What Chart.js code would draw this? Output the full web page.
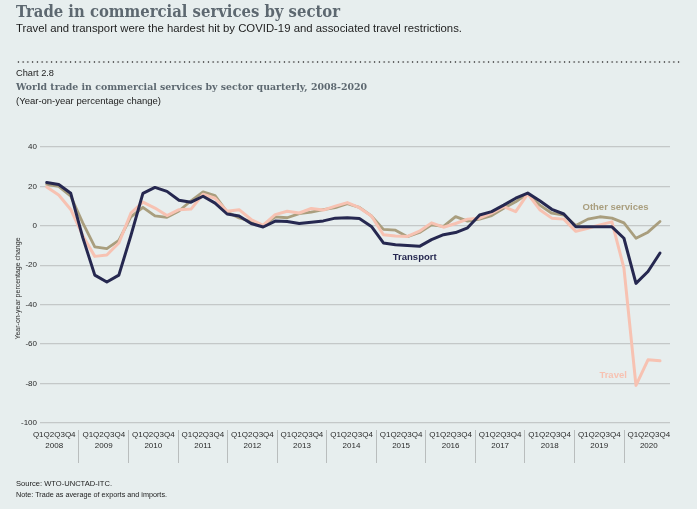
<!DOCTYPE html>
<html>
<head>
<meta charset="utf-8">
<script src="https://cdn.jsdelivr.net/npm/chart.js@4/dist/chart.umd.min.js"></script>
<style>
  html, body { margin:0; padding:0; }
  body { width:697px; height:509px; overflow:hidden; position:relative; background:#e7eeee; font-family:"Liberation Sans", Arial, sans-serif; }
  .t { position:absolute; left:16px; white-space:nowrap; transform-origin:left top; }
  #title { top:3px; font-family:"DejaVu Serif", serif; font-weight:bold; font-size:17px; line-height:17px; color:#5d6870; }
  #sub { top:23px; font-size:11px; line-height:11px; color:#1e1e1e; }
  #dots { position:absolute; left:16px; top:61px; width:665px; height:2px;
          background-image: radial-gradient(circle, #555 0.85px, transparent 1.1px);
          background-size: 4.75px 2px; background-repeat: repeat-x; }
  #cnum { top:68px; font-size:9.5px; line-height:9.5px; color:#222; }
  #ctitle { top:82px; font-family:"DejaVu Serif", serif; font-weight:bold; font-size:10px; line-height:10px; color:#5d6870; }
  #cunit { top:97px; font-size:9px; line-height:9px; color:#222; }
  #src { top:480px; font-size:7.5px; line-height:7.5px; color:#222; }
  #note { top:491px; font-size:7.5px; line-height:7.5px; color:#222; }
  canvas { position:absolute; left:0; top:0; }
</style>
</head>
<body>
<canvas id="c" width="697" height="509"></canvas>
<div class="t" id="title" data-w="324">Trade in commercial services by sector</div>
<div class="t" id="sub" data-w="446">Travel and transport were the hardest hit by COVID-19 and associated travel restrictions.</div>
<div id="dots"></div>
<div class="t" id="cnum" data-w="38">Chart 2.8</div>
<div class="t" id="ctitle" data-w="351">World trade in commercial services by sector quarterly, 2008-2020</div>
<div class="t" id="cunit" data-w="145">(Year-on-year percentage change)</div>
<div class="t" id="src" data-w="96">Source: WTO-UNCTAD-ITC.</div>
<div class="t" id="note" data-w="151">Note: Trade as average of exports and imports.</div>
<script>
// ---- data (quarterly, 2008 Q1 .. 2020 Q4) ----
const years = ['2008','2009','2010','2011','2012','2013','2014','2015','2016','2017','2018','2019','2020'];
const quarterLabel = 'Q1Q2Q3Q4';
const yTicks = [40, 20, 0, -20, -40, -60, -80, -100];
const seriesNames = ['Transport', 'Travel', 'Other services'];

const transport = [22, 21, 16.5, -6, -25, -28.5, -25, -5, 16.5, 19.5, 17.5, 13, 12, 15, 11.5, 6,
  5, 1.2, -0.6, 2.4, 2.2, 1.2, 1.8, 2.5, 3.9, 4.1, 3.7, -0.3, -8.7, -9.6, -10, -10.4,
  -7, -4.5, -3.4, -1, 5.5, 7.2, 10.5, 14, 16.6, 12.7, 8.4, 6, -0.5, -0.5, -0.5, -0.5,
  -6.3, -29.2, -23.2, -13.8];
const travel = [19.7, 15.6, 8.3, -5, -15.5, -14.8, -8.7, 6.4, 12, 9, 5.2, 8.2, 8.5, 16, 14, 7.4,
  8.2, 3.2, 0.3, 5.7, 7.4, 6.5, 8.8, 8, 10, 11.8, 9.2, 5, -4.5, -5.2, -5.4, -2.7,
  1.5, -0.7, 1.2, 3.4, 3.9, 6.4, 9.7, 7.2, 16.2, 8.2, 3.9, 3.4, -2.8, -1.2, 0.5, 2,
  -21.5, -81, -68, -68.5];
const otherServices = [21, 20, 15, 1.5, -10.7, -11.6, -7.4, 4.5, 9.4, 5, 4.3, 7.5, 12.7, 17.2, 15.3, 7,
  4, 2.2, 0, 4.5, 4.1, 6.2, 7, 8.2, 9.2, 11.2, 9.4, 5, -1.8, -2.2, -5.5, -3.4,
  0.5, -0.3, 4.7, 2.4, 3.4, 5.2, 8.9, 12.2, 16.4, 10.5, 6.4, 5.5, 0.2, 3.4, 4.6, 3.9,
  1.5, -6.3, -3.2, 2.2];

// ---- styling ----
const colors = { 'Transport': '#262850', 'Travel': '#f7c2b2', 'Other services': '#a99e7e' };
const widths = { 'Transport': 3, 'Travel': 3, 'Other services': 2.8 };
// in-chart series labels (in data units: quarter index, percent)
const seriesLabels = [
  { text: 'Transport', qx: 30.6, vy: -15.8 },
  { text: 'Other services', qx: 47.3, vy: 9.3 },
  { text: 'Travel', qx: 47.1, vy: -75.7 }
];

// fit header text widths
document.querySelectorAll('[data-w]').forEach(el => {
  const w = el.getBoundingClientRect().width;
  const target = +el.dataset.w;
  if (w > 0) el.style.transform = 'scaleX(' + (target / w) + ')';
});

const seriesValues = { 'Transport': transport, 'Travel': travel, 'Other services': otherServices };
const datasets = seriesNames.map(name => ({
  label: name,
  data: seriesValues[name].map((v, i) => ({ x: i, y: v })),
  borderColor: colors[name],
  borderWidth: widths[name],
  pointRadius: 0,
  tension: 0,
  borderJoinStyle: 'round',
  borderCapStyle: 'round',
  fill: false
}));

const labelPlugin = {
  id: 'seriesLabels',
  afterDatasetsDraw(chart) {
    const { ctx, scales } = chart;
    ctx.save();
    ctx.font = 'bold 9.5px "Liberation Sans", Arial, sans-serif';
    ctx.textAlign = 'center';
    ctx.textBaseline = 'middle';
    seriesLabels.forEach(l => {
      ctx.fillStyle = colors[l.text];
      ctx.fillText(l.text, scales.x.getPixelForValue(l.qx), scales.y.getPixelForValue(l.vy));
    });
    ctx.restore();
  }
};

const isInt = v => Math.abs(v - Math.round(v)) < 1e-6;

new Chart(document.getElementById('c'), {
  type: 'line',
  data: { datasets },
  plugins: [labelPlugin],
  options: {
    responsive: false,
    animation: false,
    devicePixelRatio: 1,
    layout: { padding: { top: 147, right: 27, bottom: 39, left: 0 } },
    plugins: { legend: { display: false }, tooltip: { enabled: false } },
    scales: {
      x: { type: 'linear', min: -0.557, max: 51.83, display: false },
      xl: {
        type: 'linear', position: 'bottom', min: 0.213, max: 12.928,
        afterBuildTicks: s => {
          const t = [];
          years.forEach((y, k) => { t.push({ value: k + 0.5 }); if (k > 0) t.push({ value: k }); });
          t.sort((a, b) => a.value - b.value);
          s.ticks = t;
        },
        afterFit: s => { s.height = 40; },
        border: { display: false },
        grid: {
          drawOnChartArea: false, drawTicks: true, tickLength: 33, lineWidth: 1,
          color: c => (c.tick && isInt(c.tick.value)) ? '#b9bdbd' : 'rgba(0,0,0,0)'
        },
        ticks: {
          autoSkip: false, maxRotation: 0, minRotation: 0, padding: -33.4,
          color: '#2a2a2a',
          font: { family: '"Liberation Sans", Arial, sans-serif', size: 8, lineHeight: 1.35 },
          callback: v => isInt(v) ? '' : [quarterLabel, years[Math.floor(v)]]
        }
      },
      y: {
        min: -103.6, max: 40,
        afterBuildTicks: s => { s.ticks = yTicks.map(v => ({ value: v })); },
        afterFit: s => { s.width = 40; },
        border: { display: false },
        grid: { color: '#c4c8c8', lineWidth: 1.2, drawTicks: false },
        ticks: {
          padding: 3, color: '#2a2a2a',
          font: { family: '"Liberation Sans", Arial, sans-serif', size: 8 },
          callback: v => String(v)
        },
        title: {
          display: true, text: 'Year-on-year percentage change', color: '#2a2a2a',
          font: { family: '"Liberation Sans", Arial, sans-serif', size: 7 },
          padding: { top: 14, bottom: 0 }
        }
      }
    }
  }
});
</script>
</body>
</html>
